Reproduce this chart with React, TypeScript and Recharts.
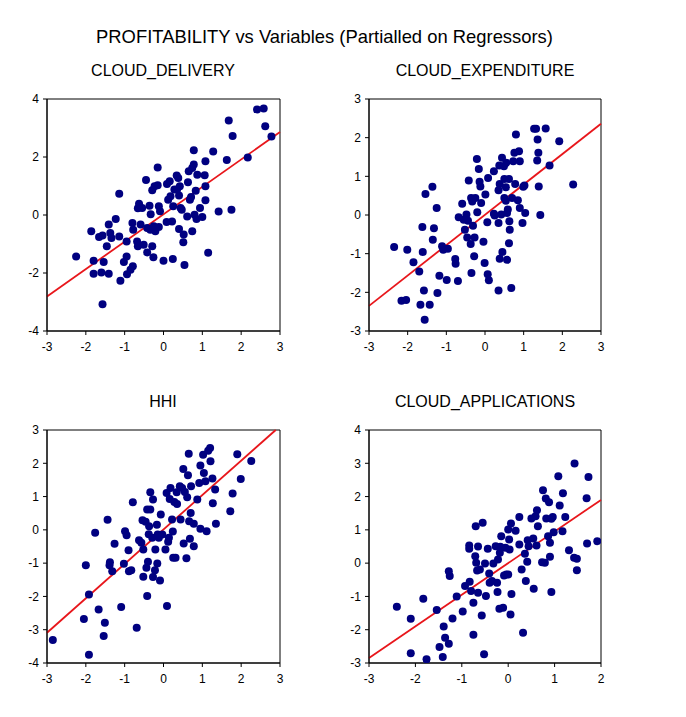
import React from 'react';
import { ScatterChart, Scatter, XAxis, YAxis, ReferenceArea, ReferenceLine } from 'recharts';

const FONT = '"Liberation Sans", Arial, Helvetica, sans-serif';

const mainTitle = 'PROFITABILITY vs Variables (Partialled on Regressors)';
const panelTitles = ['CLOUD_DELIVERY', 'CLOUD_EXPENDITURE', 'HHI', 'CLOUD_APPLICATIONS'];

const xTicks6 = [-3, -2, -1, 0, 1, 2, 3];
const xTicks5 = [-3, -2, -1, 0, 1, 2];
const yTicksDelivery = [-4, -2, 0, 2, 4];
const yTicksExpenditure = [-3, -2, -1, 0, 1, 2, 3];
const yTicksHhi = [-4, -3, -2, -1, 0, 1, 2, 3];
const yTicksApplications = [-3, -2, -1, 0, 1, 2, 3, 4];

const deliveryPoints: [number, number][] = [
  [-2.25, -1.43], [-1.86, -0.56], [-1.66, -0.76], [-1.57, -0.71], [-1.46, -1.08], [-1.41, -0.33],
  [-1.37, -0.62], [-1.34, -0.79], [-1.23, -0.14], [-1.14, -0.74], [-1.14, 0.73], [-1.8, -1.58],
  [-1.54, -1.62], [-1.8, -2.03], [-1.6, -1.98], [-1.41, -2.03], [-1.11, -2.27], [-1.57, -3.08],
  [-1.02, -1.62], [-0.95, -1.43], [-0.94, -2.04], [-0.85, -1.89], [-0.79, -1.77], [-0.95, -0.91],
  [-0.8, -0.28], [-0.78, -0.51], [-0.68, -0.91], [-0.66, -1.08], [-0.59, -0.33], [-0.51, -1.03],
  [-0.42, -1.29], [-0.29, -1.08], [-0.26, -1.46], [-0.63, 0.39], [-0.66, 0.23], [-0.55, 0.24],
  [-0.45, 1.21], [-0.36, 0.32], [-0.33, 0.03], [-0.29, 0.85], [-0.23, 0.99], [-0.15, 1.03],
  [-0.15, 1.64], [-0.12, 0.3], [-0.09, 0.13], [-0.25, -0.39], [-0.21, -0.56], [-0.34, -0.51],
  [-0.12, -0.41], [-0.42, -0.45], [0.0, -1.58], [0.09, 1.07], [0.12, 0.53], [0.16, 1.16],
  [0.18, 0.65], [0.22, -0.22], [0.24, -1.52], [0.25, 0.3], [0.28, 0.88], [0.34, 1.36],
  [0.35, 0.88], [0.38, 1.28], [0.4, 0.67], [0.42, 0.99], [0.4, -0.48], [0.44, 0.24],
  [0.47, 0.18], [0.52, -0.67], [0.51, -0.94], [0.54, -1.72], [0.61, -0.05], [0.63, 1.13],
  [0.65, 1.51], [0.68, 0.53], [0.71, 0.62], [0.74, 1.62], [0.78, 1.74], [0.78, 2.23],
  [0.8, 0.01], [0.74, -0.56], [0.83, 0.84], [0.85, -0.14], [0.87, 1.39], [0.94, 0.24],
  [1.0, -0.07], [1.06, 1.37], [1.08, 0.99], [1.08, 0.51], [1.08, 1.85], [1.15, -1.3],
  [1.28, 2.19], [1.42, 0.12], [1.63, 1.9], [1.68, 3.26], [1.75, 0.18], [1.78, 2.72],
  [2.17, 1.98], [2.41, 3.64], [2.58, 3.67], [2.62, 3.06], [2.78, 2.71], [0.08, -0.24],
];

const expenditurePoints: [number, number][] = [
  [-2.35, -0.83], [-2.01, -0.9], [-2.16, -2.22], [-2.04, -2.2], [-1.85, -1.22], [-1.7, -1.46],
  [-1.67, -2.32], [-1.43, -2.32], [-1.56, -2.71], [-1.58, -1.95], [-1.61, -0.96], [-1.62, -0.31],
  [-1.54, 0.54], [-1.36, 0.73], [-1.32, -0.34], [-1.35, -0.64], [-1.25, 0.18], [-1.23, -2.02],
  [-1.18, -1.57], [-1.11, -0.81], [-1.08, -0.9], [-0.96, -0.87], [-0.99, -1.68], [-0.77, -1.14],
  [-0.76, -1.26], [-0.7, -1.71], [-0.59, 0.29], [-0.68, -0.06], [-0.52, -0.38], [-0.55, -0.12],
  [-0.48, 0.01], [-0.44, -0.15], [-0.46, -0.58], [-0.42, 0.89], [-0.37, -0.75], [-0.36, 0.44],
  [-0.35, -1.5], [-0.33, 0.35], [-0.31, -0.28], [-0.27, -0.58], [-0.28, -1.07], [-0.25, 0.44],
  [-0.21, 1.45], [-0.2, 0.07], [-0.16, 1.19], [-0.14, 0.86], [-0.12, 0.74], [-0.1, 0.31],
  [-0.04, -0.69], [-0.01, -1.24], [0.01, 0.53], [0.06, -0.19], [0.07, -1.53], [0.1, -1.69],
  [0.08, 0.96], [0.23, 1.13], [0.23, 0.03], [0.25, -0.01], [0.35, -0.21], [0.35, 0.64],
  [0.38, 0.8], [0.37, 1.28], [0.38, -1.13], [0.44, 1.48], [0.45, -0.96], [0.42, 0.01],
  [0.49, 1.26], [0.5, 0.93], [0.5, 0.44], [0.54, 0.72], [0.57, -1.16], [0.57, 0.05],
  [0.59, 0.14], [0.62, -0.73], [0.63, -0.16], [0.64, -0.38], [0.55, 1.35], [0.54, 0.37],
  [0.62, 0.93], [0.7, 0.44], [0.68, -1.89], [0.73, 1.39], [0.76, 1.61], [0.78, 0.8],
  [0.8, 2.08], [0.85, 0.38], [0.88, 1.65], [0.9, 1.39], [0.9, 0.18], [0.97, -0.21],
  [0.99, 0.73], [1.02, 0.76], [1.04, 0.05], [0.35, -1.95], [1.27, 2.23], [1.32, 2.23],
  [1.36, 1.95], [1.38, 1.61], [1.35, 1.41], [1.39, 0.74], [1.43, 0.0], [1.57, 2.24],
  [1.67, 1.28], [1.92, 1.91], [2.28, 0.79],
];

const hhiPoints: [number, number][] = [
  [-2.85, -3.31], [-1.92, -3.75], [-2.05, -2.68], [-2.0, -1.06], [-1.92, -1.94], [-1.76, -0.09],
  [-1.67, -2.39], [-1.51, -2.79], [-1.54, -3.19], [-1.44, 0.3], [-1.38, -0.97], [-1.39, -1.06],
  [-1.32, -1.24], [-1.26, -0.42], [-1.09, -2.32], [-1.02, -1.02], [-0.99, -0.04], [-0.95, -0.16],
  [-0.9, -0.61], [-0.89, -1.24], [-0.83, -1.21], [-0.79, 0.83], [-0.69, -2.94], [-0.63, -0.31],
  [-0.57, -0.39], [-0.54, 0.29], [-0.52, -0.59], [-0.52, -1.41], [-0.46, 0.24], [-0.42, 0.61],
  [-0.42, -1.99], [-0.4, -0.96], [-0.44, -1.14], [-0.38, -0.13], [-0.37, 0.11], [-0.34, 0.61],
  [-0.34, 1.13], [-0.29, -0.24], [-0.27, 0.91], [-0.27, -1.42], [-0.22, -1.21], [-0.21, -0.59],
  [-0.17, 0.15], [-0.16, -1.01], [-0.15, -0.14], [-0.12, -0.24], [-0.09, -1.52], [-0.07, 0.46],
  [-0.03, -0.14], [0.05, -0.59], [0.08, 1.11], [0.09, -2.29], [0.12, -0.36], [0.14, -0.24],
  [0.16, 0.93], [0.18, 1.26], [0.22, 0.31], [0.24, -0.05], [0.25, -0.84], [0.28, 0.84],
  [0.31, -0.84], [0.35, 0.78], [0.34, 1.13], [0.42, 1.31], [0.44, 0.31], [0.48, 1.26],
  [0.51, 1.83], [0.52, -0.41], [0.55, 1.14], [0.59, -0.85], [0.61, 0.98], [0.63, 1.64],
  [0.65, 2.29], [0.66, 0.26], [0.68, -0.27], [0.7, 0.51], [0.71, 1.31], [0.78, 0.18],
  [0.78, -0.49], [0.87, 0.91], [0.92, 1.41], [0.95, 1.93], [0.95, 0.03], [1.02, 2.26],
  [1.04, 1.71], [1.08, 1.46], [1.11, -0.04], [1.15, 2.38], [1.2, 2.46], [1.21, 2.06],
  [1.26, 1.54], [1.27, 0.8], [1.33, 1.21], [1.35, 0.18], [1.72, 0.56], [1.78, 1.09],
  [1.9, 2.27], [1.99, 1.53], [2.26, 2.07],
];

const applicationsPoints: [number, number][] = [
  [-2.4, -1.31], [-2.1, -1.67], [-2.1, -2.71], [-1.83, -1.07], [-1.76, -2.89], [-1.54, -1.41],
  [-1.48, -2.52], [-1.41, -2.82], [-1.39, -1.9], [-1.36, -2.24], [-1.28, -2.42], [-1.28, -0.24],
  [-1.26, -0.39], [-1.2, -1.66], [-1.11, -1.0], [-0.98, -1.45], [-0.93, -0.69], [-0.83, -0.56],
  [-0.84, 0.53], [-0.84, 0.43], [-0.8, -0.84], [-0.75, -1.19], [-0.75, -2.15], [-0.7, 1.11],
  [-0.71, 0.21], [-0.69, 0.01], [-0.67, -0.22], [-0.65, 0.5], [-0.65, -0.89], [-0.61, -0.19],
  [-0.57, -1.57], [-0.55, 1.21], [-0.52, -2.74], [-0.5, -0.01], [-0.48, -0.99], [-0.44, 0.43],
  [-0.41, -0.31], [-0.4, -0.59], [-0.35, -0.54], [-0.32, -0.01], [-0.27, 0.51], [-0.24, -0.59],
  [-0.23, -0.87], [-0.22, 0.11], [-0.19, -1.37], [-0.18, 0.31], [-0.17, 0.49], [-0.15, 0.81],
  [-0.11, -1.34], [-0.09, -0.37], [-0.06, 0.46], [-0.04, -0.34], [0.0, -0.34], [0.0, 1.01],
  [0.02, 0.71], [0.03, 0.41], [0.05, -1.54], [0.06, 1.19], [0.07, -0.93], [0.16, 0.97],
  [0.24, 1.39], [0.24, 0.56], [0.29, -0.19], [0.32, -2.09], [0.36, 0.28], [0.38, -0.54],
  [0.41, 0.04], [0.42, 0.69], [0.44, 0.51], [0.5, 1.34], [0.54, 0.74], [0.55, -0.77],
  [0.59, 1.41], [0.61, 0.53], [0.62, 1.59], [0.64, 1.11], [0.73, 0.03], [0.75, 2.19],
  [0.79, 0.01], [0.81, 1.94], [0.82, 1.34], [0.86, 0.81], [0.88, 1.83], [0.9, 0.19],
  [0.9, 0.61], [0.93, -0.87], [0.93, 1.33], [0.96, 1.39], [0.98, 0.93], [1.08, 2.61],
  [1.11, 1.73], [1.17, 0.96], [1.18, 2.1], [1.23, 1.39], [1.31, 0.39], [1.42, 0.16],
  [1.43, 2.99], [1.48, 0.13], [1.48, -0.21], [1.69, 1.95], [1.7, 0.59], [1.73, 2.59],
  [1.92, 0.66],
];

const deliveryFit = [{ x: -3, y: -2.81 }, { x: 3, y: 2.86 }];
const expenditureFit = [{ x: -3, y: -2.35 }, { x: 3, y: 2.36 }];
const hhiFit = [{ x: -3, y: -3.09 }, { x: 2.89, y: 3.0 }];
const applicationsFit = [{ x: -3, y: -2.85 }, { x: 2, y: 1.9 }];

const Dot = (props: any) => {
  const { cx, cy } = props;
  if (cx == null || cy == null) return null;
  return <circle cx={cx} cy={cy} r={4} fill="#000080" />;
};

type PanelProps = {
  left: number;
  top: number;
  w: number;
  h: number;
  points: [number, number][];
  fit: { x: number; y: number }[];
  xDomain: [number, number];
  yDomain: [number, number];
  xTicks: number[];
  yTicks: number[];
};

function Panel({ left, top, w, h, points, fit, xDomain, yDomain, xTicks, yTicks }: PanelProps) {
  const data = points.map(([x, y]) => ({ x, y }));
  const YW = 40;
  const MT = 6;
  const MR = 6;
  const XH = 30;
  const tickStyle = { fill: '#000', fontSize: 12, fontFamily: FONT };
  return (
    <div style={{ position: 'absolute', left: left - YW, top: top - MT }}>
      <ScatterChart
        width={YW + w + MR}
        height={MT + h + XH}
        margin={{ top: MT, right: MR, bottom: 0, left: 0 }}
      >
        <XAxis
          type="number"
          dataKey="x"
          domain={xDomain}
          ticks={xTicks}
          allowDataOverflow
          interval={0}
          height={XH}
          tickSize={4}
          tickMargin={7}
          stroke="#000"
          tick={tickStyle}
        />
        <YAxis
          type="number"
          dataKey="y"
          domain={yDomain}
          ticks={yTicks}
          allowDataOverflow
          interval={0}
          width={YW}
          tickSize={4}
          tickMargin={4}
          stroke="#000"
          tick={tickStyle}
        />
        <ReferenceArea
          x1={xDomain[0]}
          x2={xDomain[1]}
          y1={yDomain[0]}
          y2={yDomain[1]}
          fill="none"
          fillOpacity={0}
          stroke="#000"
          strokeWidth={1}
        />
        <Scatter data={data} isAnimationActive={false} shape={Dot} />
        <ReferenceLine segment={fit} stroke="#E8161B" strokeWidth={1.8} />
      </ScatterChart>
    </div>
  );
}

const titleStyle = (cx: number, cy: number, size: number): React.CSSProperties => ({
  position: 'absolute',
  left: cx - 250,
  width: 500,
  top: cy - size / 2,
  lineHeight: `${size}px`,
  fontSize: size,
  fontFamily: FONT,
  color: '#000',
  textAlign: 'center',
  whiteSpace: 'nowrap',
});

export default function App() {
  return (
    <div style={{ position: 'absolute', left: 0, top: 0, width: 686, height: 717, background: '#fff' }}>
      <div style={titleStyle(324.5, 37, 18.4)}>{mainTitle}</div>
      <div style={titleStyle(163, 71, 16)}>{panelTitles[0]}</div>
      <div style={titleStyle(485, 71, 16)}>{panelTitles[1]}</div>
      <div style={titleStyle(163, 402, 16)}>{panelTitles[2]}</div>
      <div style={titleStyle(485, 402, 16)}>{panelTitles[3]}</div>
      <Panel left={46.5} top={99} w={233} h={232} points={deliveryPoints} fit={deliveryFit}
        xDomain={[-3, 3]} yDomain={[-4, 4]} xTicks={xTicks6} yTicks={yTicksDelivery} />
      <Panel left={368.5} top={99} w={232} h={232} points={expenditurePoints} fit={expenditureFit}
        xDomain={[-3, 3]} yDomain={[-3, 3]} xTicks={xTicks6} yTicks={yTicksExpenditure} />
      <Panel left={46.5} top={430} w={233} h={233} points={hhiPoints} fit={hhiFit}
        xDomain={[-3, 3]} yDomain={[-4, 3]} xTicks={xTicks6} yTicks={yTicksHhi} />
      <Panel left={368.5} top={430} w={232} h={233} points={applicationsPoints} fit={applicationsFit}
        xDomain={[-3, 2]} yDomain={[-3, 4]} xTicks={xTicks5} yTicks={yTicksApplications} />
    </div>
  );
}
